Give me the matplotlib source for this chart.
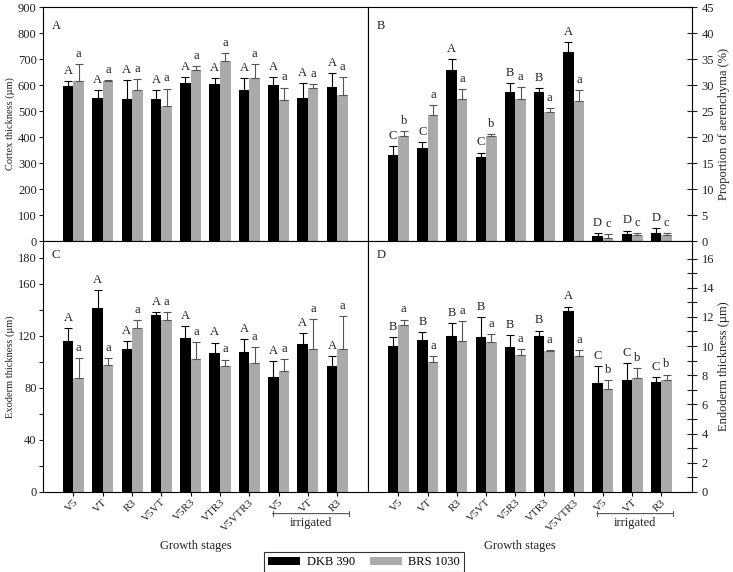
import matplotlib.pyplot as plt
import numpy as np

plt.rcParams['font.family'] = ['Liberation Serif', 'DejaVu Serif']
plt.rcParams['font.size'] = 9
plt.rcParams['axes.linewidth'] = 0.8

# growth stages (last three are irrigated)
stages = ['V5', 'VT', 'R3', 'V5VT', 'V5R3', 'VTR3', 'V5VTR3', 'V5', 'VT', 'R3']

# A - cortex thickness (um)
cortex_dkb = [597, 551, 545, 546, 608, 603, 582, 599, 550, 594]
cortex_dkb_err = [17, 31, 73, 34, 22, 25, 46, 32, 58, 53]
cortex_brs = [617, 614, 580, 520, 659, 692, 628, 544, 590, 563]
cortex_brs_err = [65, 5, 42, 66, 15, 31, 54, 46, 14, 67]
cortex_let_dkb = ['A'] * 10
cortex_let_brs = ['a'] * 10

# B - proportion of aerenchyma (%)
aer_dkb = [16.6, 17.9, 32.9, 16.2, 28.6, 28.6, 36.3, 0.9, 1.4, 1.5]
aer_dkb_err = [1.7, 1.2, 2.1, 0.8, 1.7, 0.8, 1.9, 0.7, 0.6, 1.0]
aer_brs = [20.2, 24.2, 27.3, 20.2, 27.3, 24.9, 26.9, 0.6, 1.1, 1.1]
aer_brs_err = [0.9, 1.9, 1.9, 0.4, 2.3, 0.6, 2.1, 0.8, 0.5, 0.5]
aer_let_dkb = ['C', 'C', 'A', 'C', 'B', 'B', 'A', 'D', 'D', 'D']
aer_let_brs = ['b', 'a', 'a', 'b', 'a', 'a', 'a', 'c', 'c', 'c']

# C - exoderm thickness (um)
exo_dkb = [116.4, 141.8, 110.0, 136.4, 118.2, 107.2, 107.7, 88.7, 114.1, 97.2]
exo_dkb_err = [9.5, 13.6, 6.2, 2.1, 9.5, 7.7, 10.0, 12.1, 8.2, 7.2]
exo_brs = [88.0, 98.0, 125.9, 132.3, 102.0, 97.2, 99.2, 93.1, 109.7, 109.7]
exo_brs_err = [15.1, 5.0, 6.4, 6.2, 13.4, 4.6, 12.3, 9.2, 23.4, 25.7]
exo_let_dkb = ['A'] * 10
exo_let_brs = ['a'] * 10

# D - endoderm thickness (um)
endo_dkb = [10.03, 10.42, 10.7, 10.6, 9.94, 10.7, 12.37, 7.47, 7.65, 7.52]
endo_dkb_err = [0.57, 0.53, 0.89, 1.4, 0.8, 0.36, 0.34, 1.15, 1.2, 0.34]
endo_brs = [11.43, 8.91, 10.38, 10.26, 9.39, 9.65, 9.35, 7.06, 7.82, 7.7]
endo_brs_err = [0.39, 0.39, 1.35, 0.57, 0.41, 0.09, 0.36, 0.6, 0.66, 0.35]
endo_let_dkb = ['B', 'B', 'B', 'B', 'B', 'B', 'A', 'C', 'C', 'C']
endo_let_brs = ['a', 'a', 'a', 'a', 'a', 'a', 'a', 'b', 'b', 'b']

BLACK = '#000000'
GRAY = '#aaaaaa'
TXT = '#222222'
w = 0.36
x = np.arange(len(stages))


def draw(ax, dkb, dkb_err, brs, brs_err, let_dkb, let_brs):
    n = len(dkb)
    ax.bar(x - w / 2, dkb, w, color=BLACK, label='DKB 390',
           yerr=[np.zeros(n), dkb_err],
           error_kw=dict(ecolor=BLACK, capsize=3, elinewidth=0.8, capthick=0.8))
    ax.bar(x + w / 2, brs, w, color=GRAY, label='BRS 1030',
           yerr=[np.zeros(n), brs_err],
           error_kw=dict(ecolor='#555555', capsize=3, elinewidth=0.8, capthick=0.8))
    for i in range(n):
        ax.annotate(let_dkb[i], (x[i] - w / 2, dkb[i] + dkb_err[i]), xytext=(0, 3),
                    textcoords='offset points', ha='center', va='bottom', color=TXT)
        ax.annotate(let_brs[i], (x[i] + w / 2, brs[i] + brs_err[i]), xytext=(0, 3),
                    textcoords='offset points', ha='center', va='bottom', color=TXT)
    ax.set_xlim(-1.04, 10.05)
    ax.set_xticks(x)
    ax.tick_params(axis='x', direction='out', length=3, width=0.8, pad=1)
    ax.tick_params(axis='y', length=3, width=0.8, colors=TXT, pad=1.5)


fig = plt.figure(figsize=(7.33, 5.72), dpi=100)
L, M, R = 43 / 733, 368 / 733, 692 / 733
T, C, B = 1 - 7 / 572, 1 - 241 / 572, 1 - 492 / 572
axA = fig.add_axes([L, C, M - L, T - C])
axB = fig.add_axes([M, C, R - M, T - C])
axC = fig.add_axes([L, B, M - L, C - B])
axD = fig.add_axes([M, B, R - M, C - B])

draw(axA, cortex_dkb, cortex_dkb_err, cortex_brs, cortex_brs_err, cortex_let_dkb, cortex_let_brs)
draw(axB, aer_dkb, aer_dkb_err, aer_brs, aer_brs_err, aer_let_dkb, aer_let_brs)
draw(axC, exo_dkb, exo_dkb_err, exo_brs, exo_brs_err, exo_let_dkb, exo_let_brs)
draw(axD, endo_dkb, endo_dkb_err, endo_brs, endo_brs_err, endo_let_dkb, endo_let_brs)

# top row
axA.set_ylim(0, 900)
axA.set_yticks(range(0, 901, 100))
axA.tick_params(axis='y', direction='out')
axA.set_ylabel('Cortex thickness (\u00b5m)', fontsize=7.5, labelpad=2, color=TXT)
axB.set_ylim(0, 45)
axB.set_yticks(range(0, 46, 5))
axB.yaxis.tick_right()
axB.yaxis.set_label_position('right')
axB.tick_params(axis='y', direction='inout', length=7, pad=3.5)
axB.set_ylabel('Proportion of aerenchyma (%)', fontsize=9, labelpad=3, color=TXT)
for ax in (axA, axB):
    ax.tick_params(axis='x', labelbottom=False)

# bottom row
axC.set_ylim(0, 193)
axC.set_yticks(range(0, 181, 20))
axC.set_yticklabels([str(v) if v in (0, 40, 80, 120, 160, 180) else '' for v in range(0, 181, 20)])
axC.tick_params(axis='y', direction='out')
axC.set_ylabel('Exoderm thickness (\u00b5m)', fontsize=7.5, labelpad=2, color=TXT)
axD.set_ylim(0, 17.2)
axD.set_yticks(range(0, 17))
axD.set_yticklabels([str(v) if v % 2 == 0 else '' for v in range(0, 17)])
axD.yaxis.tick_right()
axD.yaxis.set_label_position('right')
axD.tick_params(axis='y', direction='inout', length=7, pad=3.5)
axD.set_ylabel('Endoderm thickness (\u00b5m)', fontsize=9, labelpad=3, color=TXT)

for ax in (axC, axD):
    ax.set_xticklabels(stages, rotation=45, ha='right', rotation_mode='anchor',
                       color=TXT, fontsize=8)
    # irrigated bracket
    ax.annotate('', xy=(6.7, -0.086), xytext=(9.5, -0.086),
                xycoords=ax.get_xaxis_transform(),
                arrowprops=dict(arrowstyle='|-|,widthA=0.2,widthB=0.2', color='#555555', lw=0.8))
    ax.text(8.1, -0.1, 'irrigated', transform=ax.get_xaxis_transform(),
            ha='center', va='top', color=TXT)
    ax.text(0.47, -0.215, 'Growth stages', transform=ax.transAxes, ha='center', va='center',
            color=TXT)

for ax, lab, ly in ((axA, 'A', 0.92), (axB, 'B', 0.92), (axC, 'C', 0.944), (axD, 'D', 0.944)):
    ax.text(0.04, ly, lab, transform=ax.transAxes, ha='center', va='center', color=TXT)

handles, labels = axA.get_legend_handles_labels()
leg = fig.legend(handles, labels, loc='center', bbox_to_anchor=(364 / 733, 1 - 562 / 572),
                 ncol=2, frameon=True, fancybox=False, edgecolor='black',
                 handlelength=2.6, handleheight=0.6, columnspacing=1.2,
                 borderpad=0.3, handletextpad=0.5)
leg.get_frame().set_linewidth(0.8)

fig.savefig('out.png', dpi=100)
